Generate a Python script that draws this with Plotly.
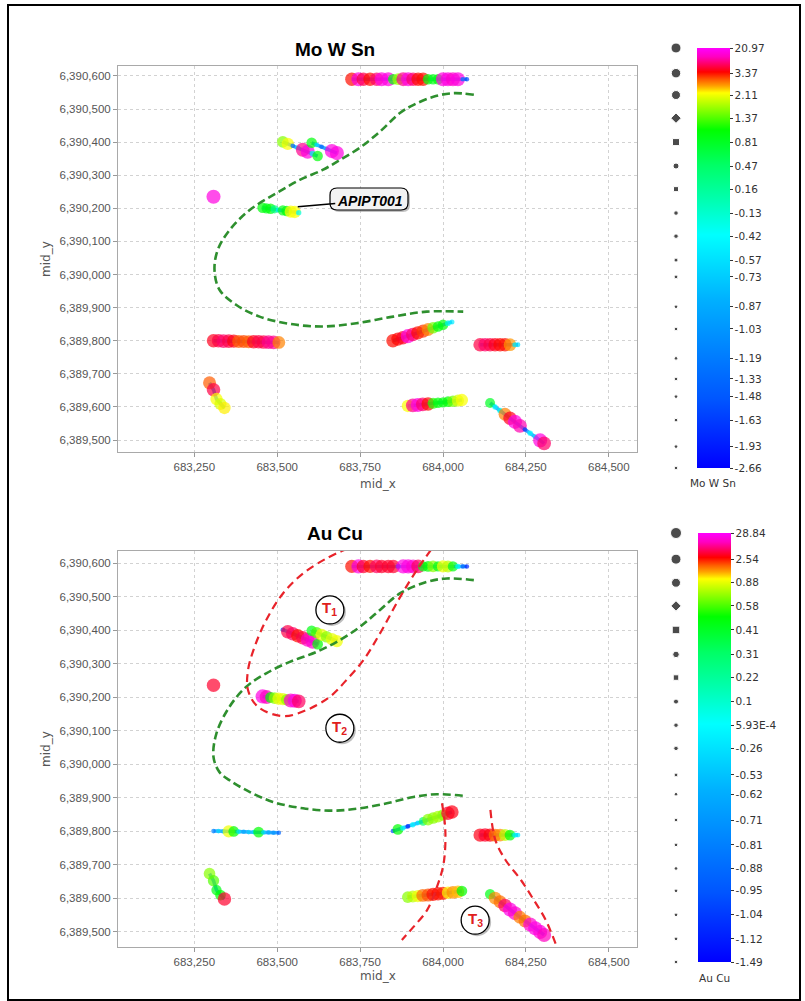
import numpy as np
import plotly.graph_objects as go

W, H = 805, 1001

# ---------------- data ----------------
x_ticks = [683250, 683500, 683750, 684000, 684250, 684500]
y_ticks = [6389500, 6389600, 6389700, 6389800, 6389900, 6390000,
           6390100, 6390200, 6390300, 6390400, 6390500, 6390600]

# colour-legend breaks (labels) and their position on the legend bar (0 = bottom, 1 = top)
mows_breaks = [20.97, 3.37, 2.11, 1.37, 0.81, 0.47, 0.16, -0.13, -0.42, -0.57,
               -0.73, -0.87, -1.03, -1.19, -1.33, -1.48, -1.63, -1.93, -2.66]
mows_labels = ["20.97", "3.37", "2.11", "1.37", "0.81", "0.47", "0.16", "-0.13", "-0.42", "-0.57",
               "-0.73", "-0.87", "-1.03", "-1.19", "-1.33", "-1.48", "-1.63", "-1.93", "-2.66"]
mows_pos = [1.0, 0.940, 0.888, 0.833, 0.776, 0.719, 0.664, 0.607, 0.552, 0.495,
            0.455, 0.384, 0.331, 0.261, 0.212, 0.170, 0.114, 0.051, 0.0]

aucu_breaks = [28.84, 2.54, 0.88, 0.58, 0.41, 0.31, 0.22, 0.1, 5.93e-4, -0.26,
               -0.53, -0.62, -0.71, -0.81, -0.88, -0.95, -1.04, -1.12, -1.49]
aucu_labels = ["28.84", "2.54", "0.88", "0.58", "0.41", "0.31", "0.22", "0.1", "5.93E-4", "-0.26",
               "-0.53", "-0.62", "-0.71", "-0.81", "-0.88", "-0.95", "-1.04", "-1.12", "-1.49"]
aucu_pos = [1.0, 0.939, 0.884, 0.830, 0.774, 0.717, 0.663, 0.607, 0.552, 0.498,
            0.436, 0.391, 0.331, 0.273, 0.218, 0.166, 0.110, 0.054, 0.0]

# drill-hole samples
hole_A_x = [683725, 683745, 683760, 683780, 683800, 683815, 683835, 683850, 683865, 683880, 683895, 683910,
            683925, 683940, 683955, 683970, 683985, 684000, 684015, 684030, 684045, 684060, 684072]
hole_A_y = [6390590, 6390590, 6390590, 6390590, 6390590, 6390590, 6390590, 6390590, 6390590, 6390590, 6390590, 6390590,
            6390590, 6390590, 6390590, 6390590, 6390590, 6390590, 6390590, 6390590, 6390590, 6390590, 6390590]
hole_A_mows = [3.5, 18, 8, 3.6, 10, 18, 18, 1.0, 1.7, 12, 18, 10, 3.6, 3.5, 1.0, 0.9, 1.0, 18, 18, 16, 18, -1.2, -1.6]
hole_A_aucu = [3.0, 25, 8, 3.0, 12, 8, 8, 8, -1.0, 25, 25, 22, 12, 0.45, 0.5, 0.7, 0.45, 1.0, 0.8, 0.45, 0.0, -0.9, -1.1]

hole_B1_x = [683517, 683532, 683547, 683562, 683577, 683592, 683607, 683622]
hole_B1_y = [6390401, 6390395, 6390389, 6390383, 6390377, 6390371, 6390365, 6390358]
hole_B1_mows = [1.6, 2.2, -1.3, -0.5, 12, 18, -0.3, 1.0]
hole_B1_aucu = [-1.0, 10, 12, 3.0, 10, 20, 22, 0.5]

hole_B2_x = [683604, 683619, 683634, 683649, 683665, 683680]
hole_B2_y = [6390398, 6390392, 6390386, 6390380, 6390373, 6390367]
hole_B2_mows = [1.0, -0.6, -1.3, -0.8, 18, 18]
hole_B2_aucu = [0.45, 0.6, 1.0, 0.7, 0.9, 1.0]

hole_L_x = [683308]
hole_L_y = [6390235]
hole_L_mows = [18]
hole_L_aucu = [8]

hole_C_x = [683456, 683468, 683480, 683492, 683504, 683517, 683529, 683541, 683553, 683565]
hole_C_y = [6390202, 6390200, 6390199, 6390197, 6390195, 6390194, 6390192, 6390190, 6390189, 6390187]
hole_C_mows = [1.0, 0.9, 1.0, 0.3, -0.5, 0.9, 1.0, 2.2, 2.2, -0.4]
hole_C_aucu = [25, 20, 0.5, 0.7, 1.0, 0.9, 0.7, 22, 25, 12]

hole_D_x = [683308, 683323, 683338, 683354, 683369, 683384, 683399, 683414, 683429, 683444, 683459, 683474, 683489, 683505]
hole_D_y = [6389800, 6389800, 6389799, 6389799, 6389799, 6389798, 6389798, 6389797, 6389797, 6389797, 6389796, 6389796, 6389795, 6389795]
hole_D_mows = [6, 8, 10, 8, 5, 3.0, 3.1, 3.0, 6, 8, 8, 12, 12, 2.8]
hole_D_aucu = [-0.8, -0.3, -0.5, 1.0, 0.5, -0.2, -0.6, -0.4, -0.3, 0.5, -0.3, -0.6, -0.7, -0.9]

hole_E_x = [683296, 683308, 683317, 683329, 683341]
hole_E_y = [6389673, 6389652, 6389624, 6389609, 6389597]
hole_E_mows = [3.0, 8, 2.2, 2.0, 2.3]
hole_E_aucu = [0.7, 0.6, 0.45, 0.5, 8]

hole_F_x = [683849, 683864, 683879, 683894, 683909, 683924, 683940, 683955, 683970, 683985, 684000, 684015, 684027]
hole_F_y = [6389800, 6389805, 6389809, 6389814, 6389819, 6389824, 6389829, 6389834, 6389839, 6389843, 6389848, 6389853, 6389857]
hole_F_mows = [3.6, 4, 6, 18, 10, 3.6, 3.2, 2.8, 1.5, 1.0, 1.0, -0.3, -0.5]
hole_F_aucu = [-1.0, 0.5, 0.0, -1.1, 0.0, -0.2, 0.3, 0.7, 0.7, 0.75, 0.7, 8, 6]

hole_G_x = [684112, 684127, 684142, 684157, 684172, 684187, 684202, 684217, 684226]
hole_G_y = [6389788, 6389788, 6389788, 6389788, 6389788, 6389788, 6389788, 6389788, 6389788]
hole_G_mows = [8, 10, 8, 6, 4, 3.4, 2.7, -0.5, -0.6]
hole_G_aucu = [6, 8, 5, 2.0, 1.8, 0.8, 0.5, 0.0, -0.2]

hole_H_x = [683894, 683909, 683924, 683939, 683955, 683970, 683985, 684000, 684015, 684030, 684045, 684057]
hole_H_y = [6389603, 6389605, 6389606, 6389608, 6389609, 6389611, 6389613, 6389614, 6389616, 6389617, 6389619, 6389621]
hole_H_mows = [2.2, 12, 18, 10, 3.6, 1.2, 1.0, 0.95, 1.1, 1.5, 2.0, 2.2]
hole_H_aucu = [0.7, 0.8, 1.0, 2.0, 2.2, 3.0, 3.2, 2.5, 1.2, 1.8, 1.5, 0.5]

hole_I_x = [684142, 684157, 684172, 684187, 684202, 684217, 684232, 684247, 684263, 684278, 684293, 684305]
hole_I_y = [6389612, 6389600, 6389589, 6389578, 6389566, 6389555, 6389543, 6389532, 6389521, 6389510, 6389499, 6389490]
hole_I_mows = [0.8, -0.4, -0.3, 2.8, 6, 18, 14, -1.6, -0.4, -0.5, 18, 10]
hole_I_aucu = [0.45, 1.8, 2.0, 12, 25, 22, 1.9, 2.0, 22, 25, 24, 20]

# interpreted trend lines
trend_top_x = [684093, 684032, 683971, 683910, 683870, 683810, 683749, 683689, 683637, 683568, 683498, 683417,
               683357, 683321, 683311, 683326, 683377, 683447, 683538, 683637, 683739, 683850, 683951, 684061]
trend_top_y = [6390543, 6390548, 6390537, 6390512, 6390488, 6390432, 6390383, 6390346, 6390316, 6390286, 6390246, 6390195,
               6390135, 6390075, 6390014, 6389954, 6389908, 6389873, 6389851, 6389843, 6389853, 6389873, 6389888, 6389888]

trend_bot_x = [684093, 684012, 683952, 683871, 683810, 683750, 683689, 683619, 683538, 683467, 683407, 683356, 683317,
               683308, 683326, 683356, 683407, 683487, 683578, 683669, 683750, 683831, 683911, 683982, 684062]
trend_bot_y = [6390549, 6390554, 6390544, 6390510, 6390460, 6390410, 6390370, 6390335, 6390305, 6390271, 6390231, 6390171, 6390092,
               6390021, 6389976, 6389952, 6389922, 6389887, 6389868, 6389861, 6389868, 6389883, 6389902, 6389910, 6389905]

t1_x = [683714, 683649, 683578, 683518, 683467, 683432, 683412, 683412, 683442, 683518, 683588, 683659, 683709,
        683760, 683810, 683871, 683921, 683967]
t1_y = [6390644, 6390614, 6390569, 6390510, 6390430, 6390350, 6390280, 6390221, 6390171, 6390143, 6390161, 6390201, 6390251,
        6390310, 6390390, 6390499, 6390579, 6390644]

t3a_x = [683997, 684007, 684002, 683982, 683952, 683911, 683876]
t3a_y = [6389883, 6389803, 6389704, 6389634, 6389564, 6389514, 6389475]
t3b_x = [684143, 684158, 684189, 684235, 684274, 684310, 684341]
t3b_y = [6389863, 6389773, 6389713, 6389654, 6389594, 6389534, 6389460]

# legend symbol sizes
mows_dot_sizes = [10, 9.5, 9, 8, 7, 6, 5, 4.5, 4.5, 4, 3.8, 3.6, 3.6, 3.6, 3.6, 3.6, 3.6, 3.6, 3.6]
aucu_dot_sizes = [11, 10, 9, 8, 7.5, 6.5, 5.5, 5, 4.5, 4.5, 3.8, 3.6, 3.6, 3.6, 3.6, 3.6, 3.6, 3.6, 3.6]
dot_symbols = ["circle", "circle", "circle", "diamond", "square", "circle", "square", "circle", "circle", "circle",
               "circle", "circle", "circle", "circle", "circle", "circle", "circle", "circle", "circle"]

# ---------------- styling ----------------
COLORSCALE = [[0.0, "#0000ff"], [0.162, "#0055ff"], [0.40, "#00b0ff"], [0.555, "#00ffff"],
              [0.638, "#00ffb0"], [0.721, "#00ff66"], [0.805, "#00ff00"], [0.852, "#88ff00"],
              [0.893, "#ffff00"], [0.91, "#ffa000"], [0.924, "#ff6000"], [0.943, "#ff0000"],
              [0.967, "#ff0080"], [0.979, "#ff00c0"], [1.0, "#ff00ff"]]
SIZE_POS = [0, 0.5, 0.55, 0.6, 0.66, 0.72, 0.78, 0.83, 0.89, 0.94, 1.0]
SIZE_PX = [4.5, 4.8, 5.3, 6.2, 7.4, 8.8, 10.2, 11.3, 12.3, 13.3, 14.3]
TRACE_COLOR = "#3aa6ff"


def to_pos(vals, breaks, pos):
    return np.interp(np.asarray(vals, dtype=float), np.asarray(breaks[::-1]), np.asarray(pos[::-1]))


def px(xp):
    return xp / W


def py(yp):
    return 1 - yp / H


holes = [
    (hole_A_x, hole_A_y, hole_A_mows, hole_A_aucu),
    (hole_B1_x, hole_B1_y, hole_B1_mows, hole_B1_aucu),
    (hole_B2_x, hole_B2_y, hole_B2_mows, hole_B2_aucu),
    (hole_L_x, hole_L_y, hole_L_mows, hole_L_aucu),
    (hole_C_x, hole_C_y, hole_C_mows, hole_C_aucu),
    (hole_D_x, hole_D_y, hole_D_mows, hole_D_aucu),
    (hole_E_x, hole_E_y, hole_E_mows, hole_E_aucu),
    (hole_F_x, hole_F_y, hole_F_mows, hole_F_aucu),
    (hole_G_x, hole_G_y, hole_G_mows, hole_G_aucu),
    (hole_H_x, hole_H_y, hole_H_mows, hole_H_aucu),
    (hole_I_x, hole_I_y, hole_I_mows, hole_I_aucu),
]

fig = go.Figure()

# hole traces (thin path under the samples)
for hx, hy, hm, ha in holes:
    if len(hx) > 1:
        for xa, ya in [("x", "y"), ("x2", "y2")]:
            fig.add_trace(go.Scatter(x=hx, y=hy, mode="lines", xaxis=xa, yaxis=ya,
                                     line=dict(color=TRACE_COLOR, width=3.5),
                                     showlegend=False, hoverinfo="skip"))

for hx, hy, hm, ha in holes:
    pm = to_pos(hm, mows_breaks, mows_pos)
    fig.add_trace(go.Scatter(x=hx, y=hy, mode="markers", xaxis="x", yaxis="y",
                             marker=dict(color=pm, coloraxis="coloraxis",
                                         size=np.interp(pm, SIZE_POS, SIZE_PX), line=dict(width=0)),
                             showlegend=False, hoverinfo="skip"))
    pa = to_pos(ha, aucu_breaks, aucu_pos)
    fig.add_trace(go.Scatter(x=hx, y=hy, mode="markers", xaxis="x2", yaxis="y2",
                             marker=dict(color=pa, coloraxis="coloraxis2",
                                         size=np.interp(pa, SIZE_POS, SIZE_PX), line=dict(width=0)),
                             showlegend=False, hoverinfo="skip"))

GREEN = "#2e8f2e"
RED = "#e8232a"
fig.add_trace(go.Scatter(x=trend_top_x, y=trend_top_y, mode="lines", xaxis="x", yaxis="y",
                         line=dict(color=GREEN, width=2.6, dash="8px,4px", shape="spline", smoothing=1),
                         showlegend=False, hoverinfo="skip"))
fig.add_trace(go.Scatter(x=trend_bot_x, y=trend_bot_y, mode="lines", xaxis="x2", yaxis="y2",
                         line=dict(color=GREEN, width=2.6, dash="8px,4px", shape="spline", smoothing=1),
                         showlegend=False, hoverinfo="skip"))
for lx, ly in [(t1_x, t1_y), (t3a_x, t3a_y), (t3b_x, t3b_y)]:
    fig.add_trace(go.Scatter(x=lx, y=ly, mode="lines", xaxis="x2", yaxis="y2",
                             line=dict(color=RED, width=2.2, dash="8px,5px", shape="spline", smoothing=1),
                             showlegend=False, hoverinfo="skip"))

# size legend dots beside the colour bars
fig.add_trace(go.Scatter(x=[0.5] * len(mows_pos), y=mows_pos, mode="markers", xaxis="x3", yaxis="y3",
                         marker=dict(color="black", size=mows_dot_sizes, symbol=dot_symbols), cliponaxis=False,
                         showlegend=False, hoverinfo="skip"))
fig.add_trace(go.Scatter(x=[0.5] * len(aucu_pos), y=aucu_pos, mode="markers", xaxis="x4", yaxis="y4",
                         marker=dict(color="black", size=aucu_dot_sizes, symbol=dot_symbols), cliponaxis=False,
                         showlegend=False, hoverinfo="skip"))

TICKFONT = dict(family="Liberation Sans, Arial", size=11.5, color="#555555")
axis_common = dict(showline=True, linecolor="#a9a9a9", linewidth=1, mirror=True,
                   ticks="outside", ticklen=4, tickcolor="#999999",
                   showgrid=True, gridcolor="#d2d2d2", griddash="dot", gridwidth=1,
                   zeroline=False, tickfont=TICKFONT, tickformat=",d")

XR = [683020, 684585]
x_dom = [px(118), px(637)]

cb_common = dict(xanchor="left", xpad=0, yanchor="top", ypad=0, lenmode="pixels",
                 thicknessmode="pixels", thickness=33, outlinewidth=0,
                 ticks="outside", ticklen=3, tickwidth=1, tickcolor="#333333",
                 tickfont=dict(family="DejaVu Sans", size=10.5, color="#333333"))

fig.update_layout(
    width=W, height=H,
    margin=dict(l=0, r=0, t=0, b=0, autoexpand=False),
    paper_bgcolor="white", plot_bgcolor="white",
    showlegend=False,
    xaxis=dict(domain=x_dom, range=XR, tickvals=x_ticks, anchor="y", **axis_common),
    yaxis=dict(domain=[py(452), py(66)], range=[6389464, 6390630], tickvals=y_ticks, anchor="x", **axis_common),
    xaxis2=dict(domain=x_dom, range=XR, tickvals=x_ticks, anchor="y2", **axis_common),
    yaxis2=dict(domain=[py(947), py(551)], range=[6389454, 6390636], tickvals=y_ticks, anchor="x2", **axis_common),
    xaxis3=dict(domain=[px(668), px(684)], range=[0, 1], visible=False, anchor="y3"),
    yaxis3=dict(domain=[py(468), py(48)], range=[0, 1], visible=False, anchor="x3"),
    xaxis4=dict(domain=[px(668), px(684)], range=[0, 1], visible=False, anchor="y4"),
    yaxis4=dict(domain=[py(962), py(533)], range=[0, 1], visible=False, anchor="x4"),
    coloraxis=dict(colorscale=COLORSCALE, cmin=0, cmax=1,
                   colorbar=dict(x=px(697), y=py(48), len=420, tickvals=mows_pos, ticktext=mows_labels, **cb_common)),
    coloraxis2=dict(colorscale=COLORSCALE, cmin=0, cmax=1,
                    colorbar=dict(x=px(698), y=py(533), len=429, tickvals=aucu_pos, ticktext=aucu_labels, **cb_common)),
)


def rrect(x0, y0, x1, y1, r):
    pts = [("M", x0 + r, y0), ("L", x1 - r, y0), ("Q", x1, y0, x1, y0 + r), ("L", x1, y1 - r),
           ("Q", x1, y1, x1 - r, y1), ("L", x0 + r, y1), ("Q", x0, y1, x0, y1 - r), ("L", x0, y0 + r),
           ("Q", x0, y0, x0 + r, y0)]
    s = ""
    for p in pts:
        cmd = p[0]
        coords = p[1:]
        parts = []
        for i in range(0, len(coords), 2):
            parts.append(f"{px(coords[i]):.5f},{py(coords[i + 1]):.5f}")
        s += cmd + " " + " ".join(parts) + " "
    return s + "Z"


shapes = [
    # outer frame
    dict(type="rect", xref="paper", yref="paper", x0=px(8), x1=px(800), y0=py(1000), y1=py(5),
         line=dict(color="black", width=2), fillcolor="rgba(0,0,0,0)", layer="above"),
    # APIPT001 callout box (shadow + box)
    dict(type="path", xref="paper", yref="paper", path=rrect(332, 190, 410, 212, 7),
         fillcolor="#9a9a9a", line=dict(width=0), opacity=0.6, layer="above"),
    dict(type="path", xref="paper", yref="paper", path=rrect(330, 188, 408, 210, 7),
         fillcolor="#f3f3f3", line=dict(color="black", width=1.2), layer="above"),
]

t_labels = [("1", 683659, 6390460), ("2", 683689, 6390107), ("3", 684097, 6389534)]
for _, tx, ty in t_labels:
    shapes.append(dict(type="circle", xref="x2", yref="y2", xsizemode="pixel", ysizemode="pixel",
                       xanchor=tx, yanchor=ty, x0=-12, x1=16, y0=-16, y1=12,
                       fillcolor="#8a8a8a", opacity=0.55, line=dict(width=0), layer="above"))
    shapes.append(dict(type="circle", xref="x2", yref="y2", xsizemode="pixel", ysizemode="pixel",
                       xanchor=tx, yanchor=ty, x0=-14, x1=14, y0=-14, y1=14,
                       fillcolor="white", line=dict(color="black", width=1.3), layer="above"))
fig.update_layout(shapes=shapes)

annotations = [
    dict(text="<b>Mo W Sn</b>", x=px(335), y=py(49), xref="paper", yref="paper", showarrow=False,
         xanchor="center", yanchor="middle", font=dict(family="Liberation Sans, Arial", size=19, color="black")),
    dict(text="<b>Au Cu</b>", x=px(335), y=py(533), xref="paper", yref="paper", showarrow=False,
         xanchor="center", yanchor="middle", font=dict(family="Liberation Sans, Arial", size=19, color="black")),
    dict(text="mid_x", x=px(377.5), y=py(484), xref="paper", yref="paper", showarrow=False,
         xanchor="center", yanchor="middle", font=dict(family="DejaVu Sans", size=12, color="#555555")),
    dict(text="mid_x", x=px(377.5), y=py(976), xref="paper", yref="paper", showarrow=False,
         xanchor="center", yanchor="middle", font=dict(family="DejaVu Sans", size=12, color="#555555")),
    dict(text="mid_y", x=px(46), y=py(259), xref="paper", yref="paper", showarrow=False, textangle=-90,
         xanchor="center", yanchor="middle", font=dict(family="DejaVu Sans", size=12, color="#555555")),
    dict(text="mid_y", x=px(46), y=py(749), xref="paper", yref="paper", showarrow=False, textangle=-90,
         xanchor="center", yanchor="middle", font=dict(family="DejaVu Sans", size=12, color="#555555")),
    dict(text="Mo W Sn", x=px(713), y=py(483), xref="paper", yref="paper", showarrow=False,
         xanchor="center", yanchor="middle", font=dict(family="DejaVu Sans", size=10.5, color="#333333")),
    dict(text="Au Cu", x=px(714), y=py(978), xref="paper", yref="paper", showarrow=False,
         xanchor="center", yanchor="middle", font=dict(family="DejaVu Sans", size=10.5, color="#333333")),
    dict(text="<b><i>APIPT001</i></b>", x=683562, y=6390205, xref="x", yref="y",
         ax=72, ay=-6, showarrow=True, arrowhead=0, arrowwidth=1.6, arrowcolor="black",
         font=dict(family="Liberation Sans, Arial", size=14, color="black")),
]
for num, tx, ty in t_labels:
    annotations.append(dict(text=f"<b>T<sub>{num}</sub></b>", x=tx, y=ty, xref="x2", yref="y2",
                            showarrow=False, xanchor="center", yanchor="middle", yshift=1,
                            font=dict(family="Liberation Sans, Arial", size=15, color="#e0201c")))
fig.update_layout(annotations=annotations)

fig.write_html("out.html", config={"displayModeBar": False},
               post_script="document.body.style.margin='0';document.body.style.padding='0';")
